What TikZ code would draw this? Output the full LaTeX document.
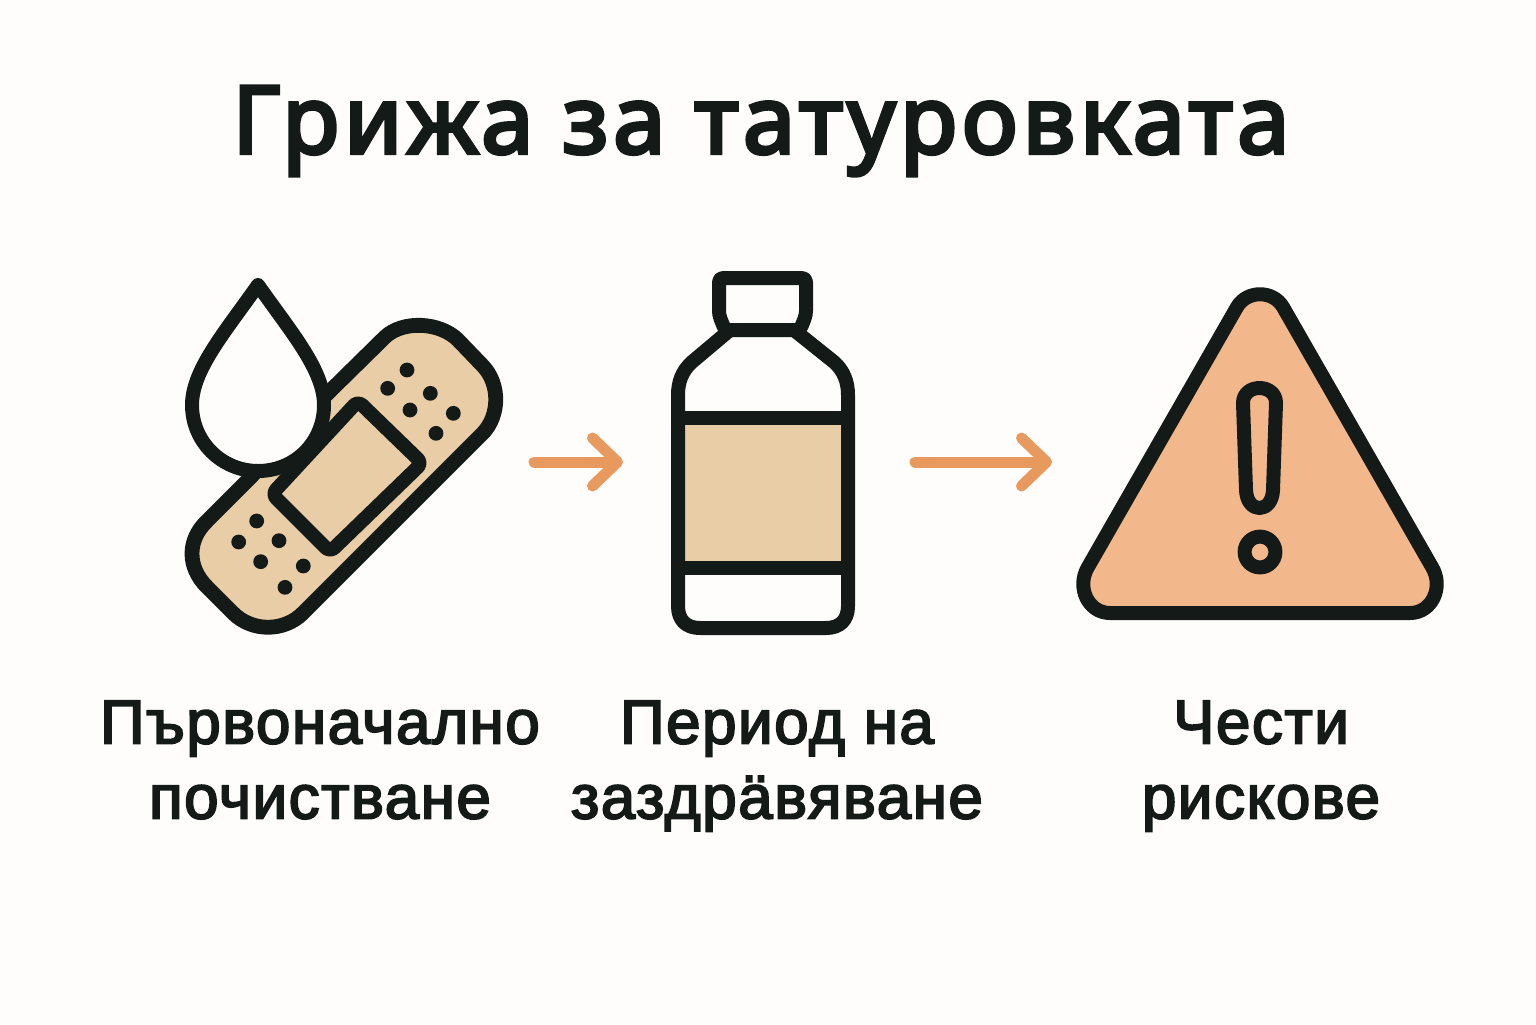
\documentclass[tikz,border=0pt]{standalone}
\usepackage{fontspec}
\usepackage{xcolor}
\usetikzlibrary{arrows.meta}
\setmainfont{Liberation Sans}
\newfontfamily\titlefont[FakeBold=4,LetterSpace=5]{Noto Sans}
\newfontfamily\labelfont[FakeBold=3,LetterSpace=2.4]{Liberation Sans}
\definecolor{ink}{HTML}{141A18}
\definecolor{paper}{HTML}{FEFDFB}
\definecolor{skin}{HTML}{E8CDA6}
\definecolor{warn}{HTML}{F2B78B}
\definecolor{flow}{HTML}{E89A5E}
\tikzset{
  iconLine/.style={draw=ink, line width=7pt, line join=round, line cap=round},
  flowArrow/.style={draw=flow, line width=5.5pt, line cap=round,
    -{Straight Barb[length=12.5pt,width=24pt,line cap=round,line join=round]}},
  titleText/.style={text=ink, font=\titlefont\fontsize{47}{56}\selectfont},
  stepText/.style={text=ink, align=center, font=\labelfont\fontsize{31}{37.5}\selectfont}
}

\begin{document}
\begin{tikzpicture}[x=0.5pt,y=-0.5pt]
  \fill[paper] (0,0) rectangle (1536,1024);
  \useasboundingbox (0,0) rectangle (1536,1024);

  \node[titleText] (title) at (761,131) {Грижа за татуровката};

  % bandage
  \path[iconLine, line width=7.4pt, fill=skin] (250,478) -- (207,521)
    .. controls (187,540) and (187,567) .. (207,587)
    -- (233,613) .. controls (252,632) and (284,632) .. (303,613)
    -- (483,433) .. controls (500,415) and (500,384) .. (483,366)
    -- (458,340) .. controls (440,322) and (403,320) .. (385,337)
    -- (325,396) -- cycle;
  \path[iconLine, fill=skin, rounded corners=3pt]
    (358,401) -- (422,463) -- (330,552) -- (272,494) -- cycle;
  \foreach \px/\py in {711/330,653/385,781/400,720/450,850/460,798/520,
                       260/783,206/846,327/842,272/905,400/918,345/982}
    \fill[ink] ({170+\px/3},{260+\py/3}) circle (3.7pt);

  % drop
  \path[iconLine, fill=paper] (258,285)
    .. controls (225,332) and (192,370) .. (192,405)
    .. controls (192,442) and (222,471) .. (258,471)
    .. controls (295,471) and (324,442) .. (324,405)
    .. controls (324,370) and (291,332) .. (258,285) -- cycle;

  % bottle
  \fill[skin] (678,418) rectangle (848,568);
  \path[iconLine] (730,330) -- (692,362)
    .. controls (682,371) and (678,382) .. (678,395)
    -- (678,606) .. controls (678,620) and (686,628) .. (700,628)
    -- (826,628) .. controls (840,628) and (848,620) .. (848,606)
    -- (848,395) .. controls (848,382) and (844,371) .. (834,362) -- (794,330);
  \path[iconLine, fill=paper, rounded corners=2pt]
    (719,278) -- (806,278) -- (806,315) -- (800,330) -- (725,330) -- (719,315) -- cycle;
  \draw[iconLine, line cap=butt] (678,418) -- (848,418);
  \draw[iconLine, line cap=butt] (678,568) -- (848,568);

  % warning sign
  \path[iconLine, fill=warn] (1110,613)
    .. controls (1088,613) and (1076,587) .. (1088,567)
    -- (1237,307) .. controls (1247,290) and (1273,290) .. (1283,307)
    -- (1432,567) .. controls (1444,587) and (1432,613) .. (1410,613) -- cycle;
  \path[iconLine] (1243,403) .. controls (1243,383) and (1276,383) .. (1276,403)
    -- (1273,490) .. controls (1272,514) and (1247,514) .. (1246,490) -- cycle;
  \draw[iconLine] (1260,552) circle (7.7pt);

  % arrows
  \coordinate (firstStart) at (534,462);
  \coordinate (firstEnd) at (623,462);
  \coordinate (secondStart) at (915,462);
  \coordinate (secondEnd) at (1052,462);
  \draw[flowArrow] (firstStart) -- (firstEnd);
  \draw[flowArrow] (secondStart) -- (secondEnd);

  \node[stepText] (stepOne) at (320,766) {\strut Първоначално\\\strut почистване};
  \node[stepText] (stepTwo) at (777,766) {\strut Период на\\\strut заздрäвяване};
  \node[stepText] (stepThree) at (1261,766) {\strut Чести\\\strut рискове};
\end{tikzpicture}
\end{document}
